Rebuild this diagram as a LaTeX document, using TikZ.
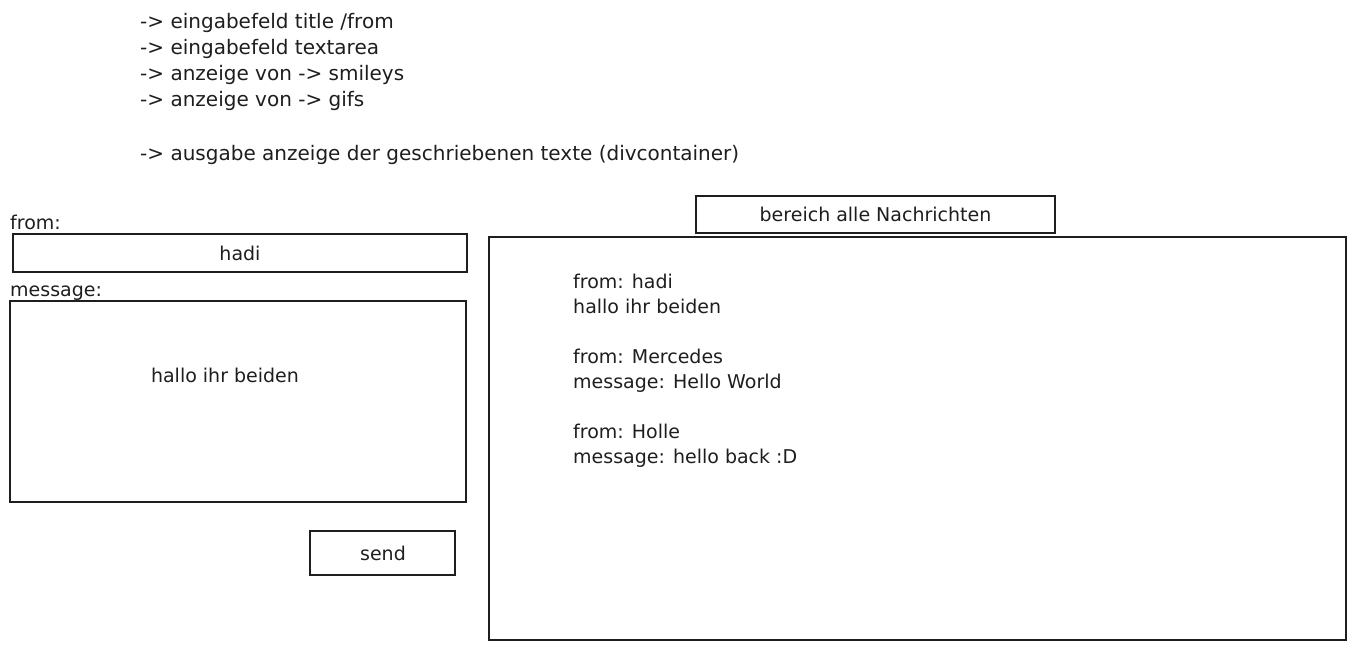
\documentclass[tikz,border=0pt]{standalone}
\usepackage{fontspec}
\setmainfont{DejaVu Sans}
\definecolor{ink}{HTML}{1E1E1E}
\begin{document}
\begin{tikzpicture}[x=1pt,y=-1pt,
  box/.style={draw=ink,line width=1.4pt,rectangle,inner sep=0pt},
  note/.style={text=ink,font=\fontsize{20}{24}\selectfont,inner sep=0pt,anchor=base west},
  txt/.style={text=ink,font=\fontsize{19}{23}\selectfont,inner sep=0pt,anchor=base west},
  ctxt/.style={text=ink,font=\fontsize{19}{23}\selectfont,inner sep=0pt,anchor=base}]
\useasboundingbox (0,0) rectangle (1356,652);
% notes
\node[note] (n1) at (140,29) {-> eingabefeld title /from};
\node[note] (n2) at (140,55) {-> eingabefeld textarea};
\node[note] (n3) at (140,81) {-> anzeige von -> smileys};
\node[note] (n4) at (140,107) {-> anzeige von -> gifs};
\node[note] (n5) at (140,161) {-> ausgabe anzeige der geschriebenen texte (divcontainer)};
% left form
\node[txt] (lfrom) at (10,230) {from:};
\node[box,minimum width=454pt,minimum height=38pt] (fromfield) at (240,253) {};
\node[ctxt] (hadi) at (240,260) {hadi};
\node[txt] (lmsg) at (10,296) {message:};
\node[box,minimum width=456pt,minimum height=201pt] (msgfield) at (238,401.5) {};
\node[ctxt] (msgtext) at (225,382) {hallo ihr beiden};
\node[box,minimum width=145pt,minimum height=44pt] (send) at (382.5,553) {};
\node[ctxt] (sendtxt) at (383,560) {send};
% right
\node[box,minimum width=359pt,minimum height=37pt] (bereich) at (875.5,214.5) {};
\node[ctxt] (bertxt) at (875.5,221.5) {bereich alle Nachrichten};
\node[box,minimum width=857pt,minimum height=403pt] (all) at (917.5,438.5) {};
\node[txt] (m1) at (573,288) {from: hadi};
\node[txt] (m2) at (573,313) {hallo ihr beiden};
\node[txt] (m3) at (573,363) {from: Mercedes};
\node[txt] (m4) at (573,388) {message: Hello World};
\node[txt] (m5) at (573,438) {from: Holle};
\node[txt] (m6) at (573,463) {message: hello back :D};
\end{tikzpicture}
\end{document}
